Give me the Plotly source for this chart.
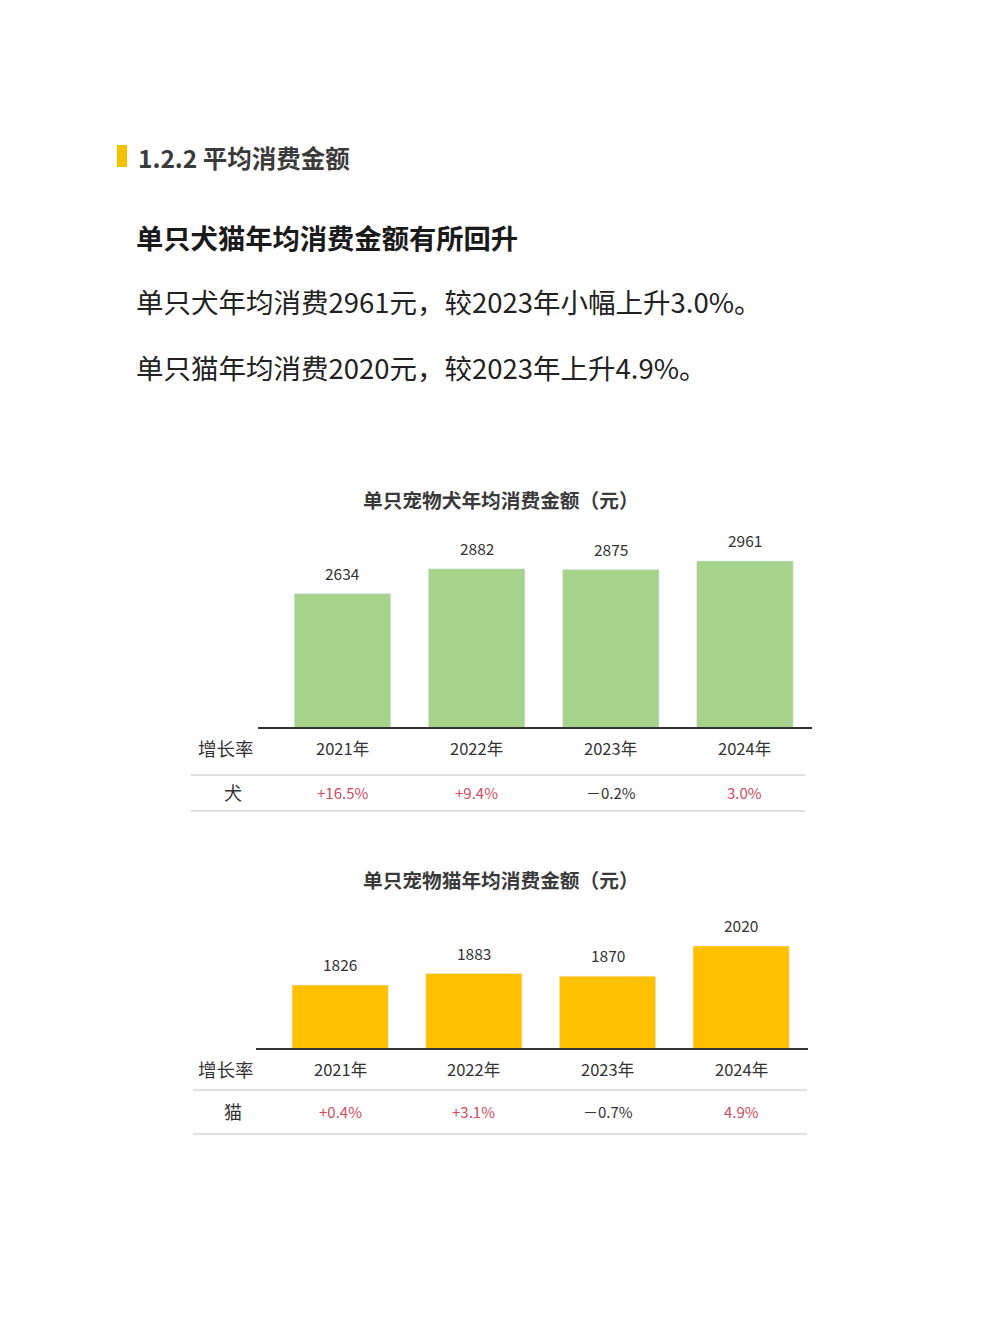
import plotly.graph_objects as go

W, H = 1002, 1336
FONT = "Noto Sans CJK SC"

# ---- data ----
years = ["2021年", "2022年", "2023年", "2024年"]
dog_values = [2634, 2882, 2875, 2961]
cat_values = [1826, 1883, 1870, 2020]
dog_growth = ["+16.5%", "+9.4%", "－0.2%", "3.0%"]
cat_growth = ["+0.4%", "+3.1%", "－0.7%", "4.9%"]
dog_title = "单只宠物犬年均消费金额（元）"
cat_title = "单只宠物猫年均消费金额（元）"
section_title = "1.2.2 平均消费金额"
headline = "单只犬猫年均消费金额有所回升"
body_lines = ["单只犬年均消费2961元，较2023年小幅上升3.0%。",
              "单只猫年均消费2020元，较2023年上升4.9%。"]

GREEN = "#A6D38C"
YELLOW = "#FFC000"
RED = "#D04A5C"
DARK = "#333333"

OFF = 8  # page body margin

def px(x):
    return (x - OFF) / W

def py(y):
    return 1 - (y - OFF) / H

fig = go.Figure()

xidx = list(range(len(years)))
fig.add_trace(go.Bar(x=xidx, y=dog_values, marker_color=GREEN, width=0.72,
                     xaxis="x", yaxis="y", showlegend=False, hoverinfo="skip"))
fig.add_trace(go.Bar(x=xidx, y=cat_values, marker_color=YELLOW, width=0.72,
                     xaxis="x2", yaxis="y2", showlegend=False, hoverinfo="skip"))

d_left, d_right = 258, 812
c_left, c_right = 256, 808
axis_common = dict(showgrid=False, zeroline=False, showticklabels=False, ticks="",
                   fixedrange=True)
fig.update_layout(
    xaxis=dict(domain=[px(d_left), px(d_right)], range=[-0.63, 3.5], anchor="y",
               showline=True, linecolor="#333333", linewidth=2, **axis_common),
    yaxis=dict(domain=[py(727), py(520)], range=[1300, 1300 + 207 / 0.1], anchor="x",
               showline=False, **axis_common),
    xaxis2=dict(domain=[px(c_left), px(c_right)], range=[-0.63, 3.5], anchor="y2",
                showline=True, linecolor="#333333", linewidth=2, **axis_common),
    yaxis2=dict(domain=[py(1048), py(910)], range=[1513, 1513 + 138 / 0.2013], anchor="x2",
                showline=False, **axis_common),
)

ann = []
def add_text(x, y, text, size, color=DARK, bold=False, xanchor="left", xref="paper", yref="paper", yshift=0):
    if bold:
        text = "<b>" + text + "</b>"
    ann.append(dict(x=x, y=y, xref=xref, yref=yref, text=text, showarrow=False,
                    xanchor=xanchor, yanchor="middle", yshift=yshift,
                    font=dict(family=FONT, size=size, color=color)))

# header texts
add_text(px(136), py(157), section_title, 24.5, "#3a3a3a", bold=True)
add_text(px(134), py(237), headline, 27.3, "#1a1a1a", bold=True)
add_text(px(134), py(301), body_lines[0], 27.5, "#222222")
add_text(px(134), py(367), body_lines[1], 27.5, "#222222")

shapes = [dict(type="rect", xref="paper", yref="paper", x0=px(117), x1=px(127),
               y0=py(145), y1=py(167), fillcolor="#F5C200", line=dict(width=0))]

def chart_block(title, title_y, values, growth, xa, ya, tick_y, row_y, label, line1, line2, lx0, lx1):
    add_text(px(501), py(title_y), title, 19.7, "#3a3a3a", bold=True, xanchor="center")
    for i, v in enumerate(values):
        ann.append(dict(x=i, y=v, xref=xa, yref=ya, text=str(v), showarrow=False,
                        xanchor="center", yanchor="bottom", yshift=8,
                        font=dict(family=FONT, size=15.5, color="#333333")))
    add_text(px(226), py(tick_y), "增长率", 18.5, "#333333", xanchor="center")
    add_text(px(233), py(row_y), label, 18, "#333333", xanchor="center")
    for i, (yr, g) in enumerate(zip(years, growth)):
        add_text(i, py(tick_y), yr, 16.5, "#333333", xanchor="center", xref=xa)
        col = "#333333" if g.startswith("－") else RED
        add_text(i, py(row_y), g, 15, col, xanchor="center", xref=xa)
    for ly in (line1, line2):
        shapes.append(dict(type="line", xref="paper", yref="paper", x0=px(lx0), x1=px(lx1),
                           y0=py(ly), y1=py(ly), line=dict(color="#D5D5D5", width=1.5)))

chart_block(dog_title, 499, dog_values, dog_growth, "x", "y", 748, 792, "犬", 775, 811, 191, 805)
chart_block(cat_title, 879, cat_values, cat_growth, "x2", "y2", 1069, 1111, "猫", 1090, 1134, 193, 807)

fig.update_layout(width=W, height=H, margin=dict(l=0, r=0, t=0, b=0),
                  paper_bgcolor="white", plot_bgcolor="white",
                  annotations=ann, shapes=shapes,
                  font=dict(family=FONT))

fig.write_html("out.html")
